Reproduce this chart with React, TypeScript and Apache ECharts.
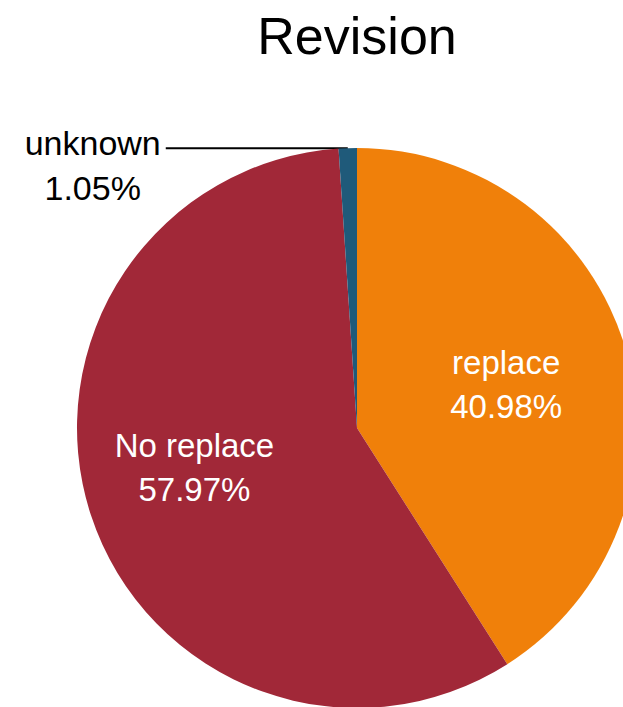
import React, { useEffect, useRef } from "react";
import * as echarts from "echarts";

const titleText = "Revision";
const categories = ["replace", "No replace", "unknown"];
const values = [40.98, 57.97, 1.05];
const colors = ["#F0800A", "#A12838", "#1F5A7A"];

export default function App() {
  const ref = useRef<HTMLDivElement>(null);
  useEffect(() => {
    const chart = echarts.init(ref.current!, null, { renderer: "svg" });
    const font = "'Liberation Sans', Arial, sans-serif";
    const cx = 357;
    const cy = 428;
    chart.setOption({
      animation: false,
      title: {
        text: titleText,
        left: 352,
        textAlign: "center",
        top: 5,
        textStyle: { fontSize: 52, fontWeight: "normal", color: "#000", fontFamily: font },
      },
      series: [
        {
          type: "pie",
          center: [cx, cy],
          radius: 280,
          startAngle: 90,
          clockwise: true,
          avoidLabelOverlap: false,
          data: categories.map((c, i) => ({
            name: c,
            value: values[i],
            itemStyle: { color: colors[i] },
            label:
              i === 2
                ? {
                    position: "outside",
                    color: "#000",
                    fontSize: 34,
                    lineHeight: 45,
                    fontFamily: font,
                    padding: [34, 0, 0, 0],
                    formatter: (p: any) => `{a|${p.name}}\n{b|${p.value.toFixed(2)}%}`,
                    rich: {
                      a: { fontSize: 34, lineHeight: 45, fontFamily: font, color: "#000" },
                      b: { fontSize: 34, lineHeight: 45, fontFamily: font, color: "#000", align: "center" },
                    },
                  }
                : {
                    position: "inside",
                    color: "#fff",
                    fontSize: 33,
                    lineHeight: 44,
                    fontFamily: font,
                    formatter: (p: any) => `${p.name}\n${p.value.toFixed(2)}%`,
                  },
            labelLine:
              i === 2
                ? { show: true, length: 0, length2: 182, lineStyle: { color: "#000", width: 2 } }
                : { show: false },
          })),
          labelLayout: (params: any) => {
            if (params.dataIndex === 2) return {};
            const r = params.labelRect;
            const lx = r.x + r.width / 2;
            const ly = r.y + r.height / 2;
            const k = 0.13;
            const extra = params.dataIndex === 0 ? [-6, 2] : [-9, -11];
            return { dx: (lx - cx) * k + extra[0], dy: (ly - cy) * k + extra[1] };
          },
        },
      ],
    });
    return () => chart.dispose();
  }, []);
  return <div ref={ref} style={{ position: "absolute", left: 0, top: 0, width: 623, height: 707 }} />;
}
